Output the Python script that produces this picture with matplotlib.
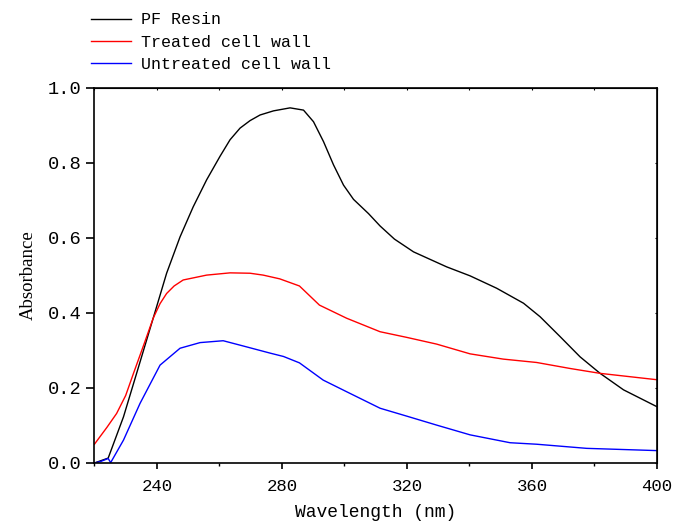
import matplotlib
matplotlib.use("Agg")
import matplotlib.pyplot as plt
from matplotlib.ticker import MultipleLocator, FuncFormatter

# ------------------ DATA ------------------

wl_pf = [220, 224.4, 229.3, 233.5, 238.8, 243.1, 247.4, 251.6, 255.9, 260.2,
         263.4, 266.6, 269.8, 273.0, 277.3, 282.6, 286.9, 290.1, 293.3, 296.5,
         299.7, 302.9, 307.7, 311.4, 316.0, 322.1, 332.7, 340.2, 348.7, 357.3,
         362.6, 369.0, 375.4, 381.8, 389.3, 400]
abs_pf = [0.0, 0.013, 0.123, 0.239, 0.386, 0.506, 0.603, 0.683, 0.755, 0.818,
          0.862, 0.893, 0.913, 0.928, 0.939, 0.947, 0.941, 0.91, 0.857, 0.795,
          0.741, 0.703, 0.665, 0.632, 0.597, 0.563, 0.523, 0.499, 0.466, 0.426,
          0.39, 0.337, 0.283, 0.239, 0.195, 0.15]

wl_treated = [220, 224, 227.1, 230, 232.5, 236, 238.8, 241.0, 243.1, 245.5,
              248.4, 255.9, 263.4, 269.8, 274.0, 279.3, 285.6, 292.0, 300.7,
              311.4, 319.9, 329.5, 340.2, 350.8, 361.5, 372.2, 381.8, 400]
abs_treated = [0.05, 0.095, 0.132, 0.18, 0.239, 0.32, 0.386, 0.425, 0.452, 0.472,
               0.488, 0.501, 0.507, 0.506, 0.501, 0.491, 0.472, 0.421, 0.386,
               0.35, 0.335, 0.317, 0.291, 0.277, 0.268, 0.252, 0.239, 0.222]

wl_untreated = [220, 222, 224.4, 225.2, 229.3, 234.6, 241.0, 247.4, 253.8,
                261.2, 267.6, 276.2, 280.5, 285.6, 293.2, 300.7, 311.4, 319.9,
                329.5, 340.2, 353.0, 361.5, 377.5, 400]
abs_untreated = [0.0, 0.004, 0.012, 0.001, 0.061, 0.159, 0.261, 0.306, 0.321,
                 0.326, 0.312, 0.293, 0.284, 0.267, 0.221, 0.19, 0.146, 0.125,
                 0.101, 0.075, 0.054, 0.05, 0.039, 0.033]

labels = ["PF Resin", "Treated cell wall", "Untreated cell wall"]
colors = ["black", "red", "blue"]

x_major = [240, 280, 320, 360, 400]
y_major = [0.0, 0.2, 0.4, 0.6, 0.8, 1.0]

# ------------------ PLOT ------------------

plt.rcParams["font.family"] = ["Liberation Mono", "DejaVu Sans"]

fig = plt.figure(figsize=(6.73, 5.31), dpi=100)
ax = fig.add_axes([0.1403, 0.1281, 0.9762 - 0.1403, 0.8343 - 0.1281])

series = [(wl_pf, abs_pf), (wl_treated, abs_treated), (wl_untreated, abs_untreated)]
handles = []
for (x, y), lab, c in zip(series, labels, colors):
    h, = ax.plot(x, y, color=c, lw=1.0, label=lab)
    handles.append(h)

ax.set_xlim(220, 400)
ax.set_ylim(0, 1.0)
ax.set_xticks(x_major)
ax.xaxis.set_minor_locator(MultipleLocator(20))
ax.set_yticks(y_major)
ax.yaxis.set_major_formatter(FuncFormatter(lambda v, p: f"{v:.1f}"))

for s in ax.spines.values():
    s.set_linewidth(1.2)

ax.tick_params(axis="x", which="major", direction="out", length=4.5, width=1.2,
               labelsize=12.5, pad=7)
ax.tick_params(axis="x", which="minor", direction="out", length=2.5, width=1.0)
ax.tick_params(axis="y", which="major", direction="out", length=6, width=1.2,
               labelsize=13.5, pad=3)

# tiny inward ticks on the top and right frame
top = ax.secondary_xaxis("top")
top.set_xticks(x_major)
top.xaxis.set_minor_locator(MultipleLocator(20))
top.tick_params(which="both", direction="in", length=1.5, width=0.8, labeltop=False)
right = ax.secondary_yaxis("right")
right.set_yticks(y_major)
right.tick_params(direction="in", length=1.5, width=0.8, labelright=False)

ax.set_xlabel("Wavelength (nm)", fontsize=13, labelpad=7)
ax.set_ylabel("Absorbance", fontsize=13.5, labelpad=8, family="Liberation Serif")

fig.legend(handles=handles, labels=labels, loc="upper left",
           bbox_to_anchor=(0.113, 1.005), frameon=False, fontsize=12,
           handlelength=2.4, handletextpad=0.6, labelspacing=0.44)

fig.savefig("out.png", dpi=100)
